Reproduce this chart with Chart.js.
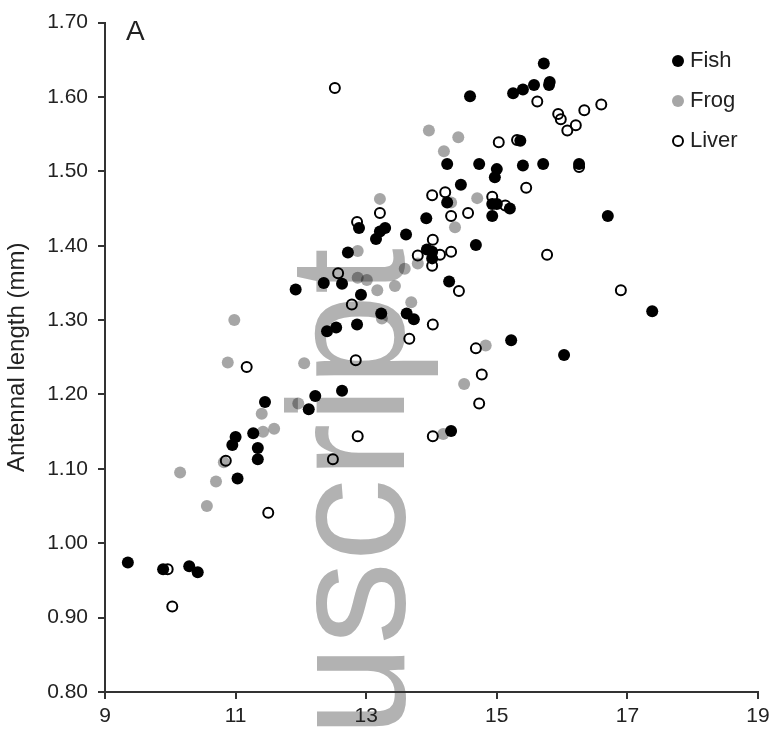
<!DOCTYPE html>
<html>
<head>
<meta charset="utf-8">
<script src="https://cdn.jsdelivr.net/npm/chart.js@4/dist/chart.umd.min.js"></script>
<style>
  html, body { margin: 0; padding: 0; background: #fff; }
</style>
</head>
<body>
<canvas id="chart" width="780" height="734"></canvas>
<script>
(function() {
  // values
  let fishX = [9.35, 9.89, 10.29, 10.42, 11.03, 10.95, 11.00, 11.27, 11.34, 11.34, 11.45, 12.12, 12.22, 12.63,
    11.92, 12.35, 12.63, 12.72, 12.40, 12.54, 12.86, 12.92, 12.89, 13.15, 13.21, 13.29, 13.61, 13.23, 13.62,
    13.73, 13.92, 13.93, 14.01, 14.01, 14.27, 14.30, 14.68, 14.24, 14.24, 14.45, 14.59, 14.73, 14.93, 15.00,
    14.93, 15.00, 14.97, 15.20, 15.25, 15.36, 15.40, 15.40, 15.57, 15.72, 15.81, 15.80, 15.71, 16.26, 16.70,
    17.38, 16.03, 15.22];
  let fishY = [0.974, 0.965, 0.969, 0.961, 1.087, 1.132, 1.143, 1.148, 1.128, 1.113, 1.190, 1.180, 1.198, 1.205,
    1.341, 1.350, 1.349, 1.391, 1.285, 1.290, 1.294, 1.334, 1.424, 1.409, 1.419, 1.424, 1.415, 1.309, 1.309,
    1.301, 1.437, 1.395, 1.392, 1.383, 1.352, 1.151, 1.401, 1.510, 1.458, 1.482, 1.601, 1.510, 1.456, 1.456,
    1.440, 1.503, 1.492, 1.450, 1.605, 1.541, 1.610, 1.508, 1.616, 1.645, 1.620, 1.616, 1.510, 1.510, 1.440,
    1.312, 1.253, 1.273];

  let frogX = [10.15, 10.56, 10.70, 10.82, 10.88, 10.98, 11.40, 11.42, 11.59, 11.96, 12.05, 12.87, 12.87, 13.01,
    13.17, 13.21, 13.24, 13.44, 13.59, 13.69, 13.79, 13.96, 14.19, 14.30, 14.36, 14.41, 14.70, 14.18, 14.50, 14.83];
  let frogY = [1.095, 1.050, 1.083, 1.109, 1.243, 1.300, 1.174, 1.150, 1.154, 1.188, 1.242, 1.393, 1.357, 1.354,
    1.340, 1.463, 1.302, 1.346, 1.369, 1.324, 1.376, 1.555, 1.527, 1.458, 1.425, 1.546, 1.464, 1.147, 1.214, 1.266];

  let liverX = [9.96, 10.03, 10.85, 11.50, 11.17, 12.49, 12.52, 12.57, 12.78, 12.84, 12.87, 12.86, 13.21, 13.66,
    13.79, 14.01, 14.02, 14.02, 14.02, 14.01, 14.13, 14.21, 14.30, 14.30, 14.42, 14.56, 14.68, 14.77, 14.73,
    14.93, 15.03, 15.13, 15.31, 15.45, 15.62, 15.77, 15.94, 15.98, 16.08, 16.21, 16.34, 16.60, 16.26, 16.90];
  let liverY = [0.965, 0.915, 1.111, 1.041, 1.237, 1.113, 1.612, 1.363, 1.321, 1.246, 1.144, 1.432, 1.444, 1.275,
    1.387, 1.373, 1.408, 1.294, 1.144, 1.468, 1.388, 1.472, 1.392, 1.440, 1.339, 1.444, 1.262, 1.227, 1.188,
    1.466, 1.539, 1.454, 1.542, 1.478, 1.594, 1.388, 1.577, 1.570, 1.555, 1.562, 1.582, 1.590, 1.506, 1.340];

  let seriesNames = ['Fish', 'Frog', 'Liver'];
  let yAxisTitle = 'Antennal length (mm)';
  let panelLabel = 'A';
  let watermark = 'uscript';

  let textColor = '#222';
  let axisColor = '#333';
  let fontFamily = '"Liberation Sans", Arial, sans-serif';

  function toPoints(xs, ys) {
    return xs.map((x, i) => ({ x: x, y: ys[i] }));
  }

  // grey "Manuscript" stamp sits behind everything
  let watermarkPlugin = {
    id: 'watermark',
    beforeDraw(chart) {
      let ctx = chart.ctx;
      ctx.save();
      ctx.translate(404, 737);
      ctx.rotate(-Math.PI / 2);
      ctx.font = '166px ' + fontFamily;
      ctx.fillStyle = '#b2b2b2';
      ctx.textBaseline = 'alphabetic';
      ctx.fillText(watermark, 0, 0);
      ctx.restore();
    }
  };

  let labelsPlugin = {
    id: 'labels',
    afterDraw(chart) {
      let ctx = chart.ctx;
      ctx.save();
      ctx.fillStyle = textColor;
      ctx.font = '28px ' + fontFamily;
      ctx.textBaseline = 'alphabetic';
      ctx.fillText(panelLabel, 126, 40);

      // legend, top right
      chart.data.datasets.forEach((ds, i) => {
        let y = 61 + i * 40;
        ctx.beginPath();
        ctx.arc(678, y, ds.borderWidth ? 5 : 6, 0, Math.PI * 2);
        ctx.fillStyle = ds.backgroundColor;
        ctx.fill();
        if (ds.borderWidth) {
          ctx.lineWidth = ds.borderWidth;
          ctx.strokeStyle = ds.borderColor;
          ctx.stroke();
        }
        ctx.fillStyle = textColor;
        ctx.font = '22px ' + fontFamily;
        ctx.textBaseline = 'middle';
        ctx.fillText(ds.label, 690, y);
      });
      ctx.restore();
    }
  };

  let ctx = document.getElementById('chart').getContext('2d');
  let chart = new Chart(ctx, {
    type: 'scatter',
    data: {
      datasets: [
        {
          label: seriesNames[0],
          data: toPoints(fishX, fishY),
          backgroundColor: '#000',
          borderColor: '#000',
          borderWidth: 0,
          pointRadius: 6
        },
        {
          label: seriesNames[1],
          data: toPoints(frogX, frogY),
          backgroundColor: 'rgba(0,0,0,0.35)',
          borderColor: 'rgba(0,0,0,0)',
          borderWidth: 0,
          pointRadius: 6
        },
        {
          label: seriesNames[2],
          data: toPoints(liverX, liverY),
          backgroundColor: 'rgba(255,255,255,0)',
          borderColor: '#000',
          borderWidth: 2,
          pointRadius: 5
        }
      ]
    },
    options: {
      responsive: false,
      animation: false,
      devicePixelRatio: 1,
      layout: { padding: { top: 20, right: 22, left: 0, bottom: 0 } },
      plugins: {
        legend: { display: false },
        tooltip: { enabled: false }
      },
      scales: {
        x: {
          type: 'linear',
          min: 9,
          max: 19,
          ticks: { stepSize: 2, color: textColor, font: { family: fontFamily, size: 21 }, padding: 5 },
          grid: { drawOnChartArea: false, drawTicks: true, tickLength: 7, color: axisColor, lineWidth: 2 },
          border: { display: true, color: axisColor, width: 2 },
          afterFit: scale => { scale.height = 42; }
        },
        y: {
          min: 0.8,
          max: 1.7,
          ticks: {
            stepSize: 0.1,
            color: textColor,
            font: { family: fontFamily, size: 21 },
            padding: 10,
            callback: v => Number(v).toFixed(2)
          },
          title: {
            display: true,
            text: yAxisTitle,
            color: textColor,
            font: { family: fontFamily, size: 24 },
            padding: { top: 3, bottom: 0 }
          },
          grid: { drawOnChartArea: false, drawTicks: true, tickLength: 7, color: axisColor, lineWidth: 2 },
          border: { display: true, color: axisColor, width: 2 },
          afterFit: scale => { scale.width = 105; }
        }
      }
    },
    plugins: [watermarkPlugin, labelsPlugin]
  });
})();
</script>
</body>
</html>
